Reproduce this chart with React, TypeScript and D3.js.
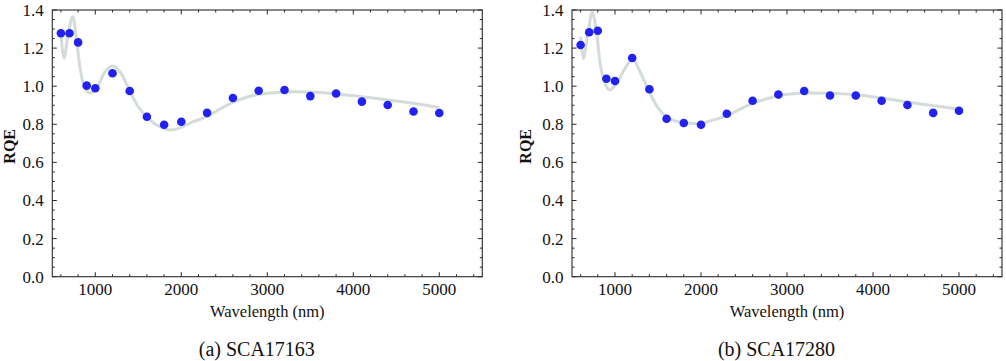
import * as d3 from "d3";
import React from "react";

// measured wavelengths (nm)
const wavelengths = [600, 700, 800, 900, 1000, 1200, 1400, 1600, 1800, 2000, 2300, 2600, 2900, 3200, 3500, 3800, 4100, 4400, 4700, 5000];

// RQE per detector
const rqeA = [1.278, 1.278, 1.23, 1.003, 0.989, 1.068, 0.975, 0.84, 0.798, 0.813, 0.86, 0.938, 0.976, 0.98, 0.948, 0.962, 0.919, 0.901, 0.867, 0.859];
const rqeB = [1.216, 1.283, 1.291, 1.039, 1.027, 1.148, 0.984, 0.829, 0.807, 0.798, 0.855, 0.924, 0.956, 0.975, 0.951, 0.951, 0.924, 0.901, 0.86, 0.871];

// fitted curves
const fitWlA = [600, 636, 686, 737, 784, 830, 880, 946, 1035, 1113, 1202, 1287, 1396, 1500, 1597, 1714, 1870, 2000, 2140, 2300, 2450, 2600, 2760, 2900, 3200, 3500, 3800, 4100, 4400, 4700, 5000];
const fitA = [1.278, 1.146, 1.278, 1.365, 1.234, 1.076, 0.989, 0.963, 1.006, 1.076, 1.106, 1.076, 0.98, 0.892, 0.84, 0.796, 0.77, 0.784, 0.814, 0.84, 0.88, 0.915, 0.942, 0.957, 0.97, 0.969, 0.959, 0.945, 0.928, 0.91, 0.887];
const fitWlB = [600, 632, 682, 736, 787, 845, 934, 1020, 1116, 1205, 1291, 1399, 1504, 1601, 1700, 1870, 2000, 2143, 2300, 2453, 2600, 2764, 2900, 3200, 3500, 3800, 4100, 4400, 4700, 5000];
const fitB = [1.26, 1.146, 1.269, 1.388, 1.275, 1.076, 0.98, 1.015, 1.094, 1.141, 1.076, 0.971, 0.884, 0.84, 0.818, 0.805, 0.805, 0.823, 0.844, 0.879, 0.91, 0.934, 0.95, 0.964, 0.963, 0.955, 0.938, 0.917, 0.898, 0.879];

const xTicks = [1000, 2000, 3000, 4000, 5000];
const yTicks = [0, 0.2, 0.4, 0.6, 0.8, 1.0, 1.2, 1.4];

const FONT = '"Liberation Serif", "DejaVu Serif", "Times New Roman", serif';
const FRAME = "#2a2a2a";

type PanelProps = {
    left: number;
    labelX: number;
    caption: string;
    values: number[];
    fitX: number[];
    fitY: number[];
};

const Panel = ({ left, labelX, caption, values, fitX, fitY }: PanelProps) => {
    const top = 10;
    const bottom = 276.7;
    const right = left + 430;

    const x = d3.scaleLinear().domain([500, 5500]).range([left, right]);
    const y = d3.scaleLinear().domain([0, 1.4]).range([bottom, top]);

    const line = d3.line<number>()
        .x((_, i) => x(fitX[i]))
        .y(d => y(d))
        .curve(d3.curveCatmullRom.alpha(0.5));

    const xMinor = d3.range(600, 5500, 200).filter(v => v % 1000 !== 0);
    const yMinor = d3.range(0, 29).map(i => i * 0.05).filter(v => Math.abs(v * 5 - Math.round(v * 5)) > 1e-6);

    const tick = (major: boolean) => (major ? 4.5 : 2.5);
    const txt = { fontFamily: FONT, fill: "#111" };

    return (
        <g>
            {/* fitted curve */}
            <path d={line(fitY) || ""} fill="none" stroke="#d3dcd8" strokeWidth={3} />

            {/* data points */}
            {values.map((v, i) => (
                <circle key={i} cx={x(wavelengths[i])} cy={y(v)} r={4.3} fill="#2121f2" />
            ))}

            {/* frame */}
            <rect x={left} y={top} width={right - left} height={bottom - top} fill="none" stroke={FRAME} strokeWidth={1.1} />

            {/* x ticks, bottom and top */}
            {[...xTicks.map(v => [v, true] as const), ...xMinor.map(v => [v, false] as const)].map(([v, major]) => (
                <g key={"x" + v} stroke={FRAME} strokeWidth={1}>
                    <line x1={x(v)} x2={x(v)} y1={bottom} y2={bottom - tick(major)} />
                    <line x1={x(v)} x2={x(v)} y1={top} y2={top + tick(major)} />
                </g>
            ))}

            {/* y ticks, left and right */}
            {[...yTicks.map(v => [v, true] as const), ...yMinor.map(v => [v, false] as const)].map(([v, major]) => (
                <g key={"y" + v} stroke={FRAME} strokeWidth={1}>
                    <line x1={left} x2={left + tick(major)} y1={y(v)} y2={y(v)} />
                    <line x1={right} x2={right - tick(major)} y1={y(v)} y2={y(v)} />
                </g>
            ))}

            {/* tick labels */}
            {xTicks.map(v => (
                <text key={"xl" + v} x={x(v)} y={bottom + 18.5} textAnchor="middle" style={{ ...txt, fontSize: 17 }}>
                    {v}
                </text>
            ))}
            {yTicks.map(v => (
                <text key={"yl" + v} x={left - 8.5} y={y(v)} dy="0.35em" textAnchor="end" style={{ ...txt, fontSize: 17 }}>
                    {v.toFixed(1)}
                </text>
            ))}

            {/* axis titles */}
            <text x={x(3000)} y={316.7} textAnchor="middle" style={{ ...txt, fontSize: 16.5 }}>
                Wavelength (nm)
            </text>
            <text
                transform={`translate(${labelX},${(top + bottom) / 2 + 3}) rotate(-90)`}
                textAnchor="middle"
                style={{ ...txt, fontSize: 16, fontWeight: "bold" }}
            >
                RQE
            </text>

            {/* caption */}
            <text x={left + 204.5} y={356} textAnchor="middle" style={{ ...txt, fontSize: 20 }}>
                {caption}
            </text>
        </g>
    );
};

const App = () => {
    return (
        <svg
            width={1006}
            height={361}
            style={{ position: "absolute", left: 0, top: 0, display: "block", background: "#fff" }}
        >
            <Panel left={52.3} labelX={14.5} caption="(a) SCA17163" values={rqeA} fitX={fitWlA} fitY={fitA} />
            <Panel left={572} labelX={530.5} caption="(b) SCA17280" values={rqeB} fitX={fitWlB} fitY={fitB} />
        </svg>
    );
};

export default App;
